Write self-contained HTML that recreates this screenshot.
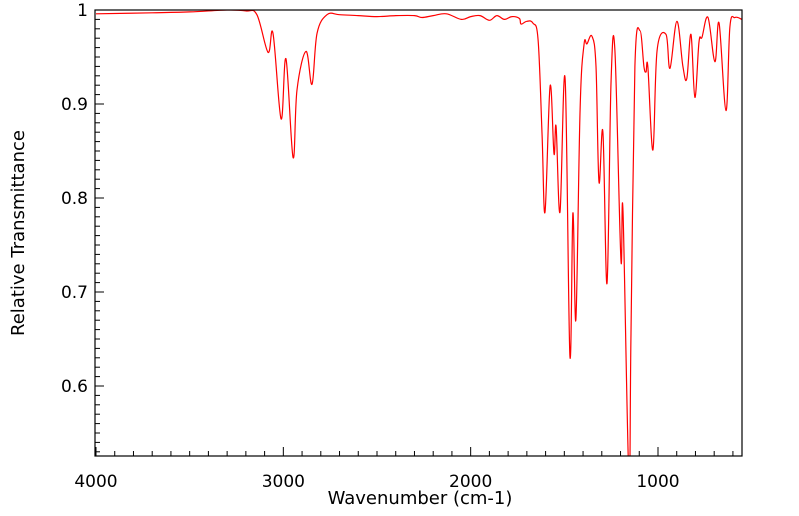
<!DOCTYPE html>
<html><head><meta charset="utf-8"><style>
html,body{margin:0;padding:0;background:#fff;}
svg{display:block;font-family:"DejaVu Sans","Liberation Sans",sans-serif;}
</style></head><body>
<svg id="chart" width="799" height="516">
<defs><clipPath id="clip"><rect x="95" y="10" width="647" height="446"/></clipPath></defs>
<g id="axes"></g>
<path id="line" fill="none" stroke="#ff0000" stroke-width="1.2" clip-path="url(#clip)"/>
<rect x="95" y="10" width="647" height="446" fill="none" stroke="#000" stroke-width="1.2"/>
<text x="420" y="504" font-size="18" text-anchor="middle">Wavenumber (cm-1)</text>
<text transform="translate(24,233) rotate(-90)" font-size="18" text-anchor="middle">Relative Transmittance</text>
</svg>
<script>
const wavenumbers=[4000,3700,3500,3300,3200,3141,3082,3055,3012,2986,2948,2927,2879,2847,2820,2767,2700,2600,2500,2400,2300,2260,2200,2130,2050,2000,1950,1900,1860,1820,1780,1740,1731,1700,1667,1640,1619,1603,1576,1555,1544,1523,1496,1470,1454,1438,1416,1395,1379,1352,1331,1315,1294,1272,1251,1230,1198,1187,1155,1144,1123,1096,1075,1064,1054,1027,1005,957,936,899,867,846,824,803,781,765,733,696,674,637,616,589,552];
const transmittance=[0.996,0.997,0.998,1.0,0.999,0.995,0.955,0.975,0.884,0.948,0.843,0.915,0.956,0.921,0.975,0.995,0.995,0.994,0.993,0.994,0.994,0.992,0.994,0.996,0.99,0.993,0.994,0.989,0.994,0.99,0.993,0.991,0.985,0.988,0.986,0.968,0.869,0.785,0.919,0.847,0.876,0.785,0.927,0.632,0.784,0.671,0.894,0.963,0.964,0.972,0.94,0.817,0.87,0.709,0.922,0.957,0.735,0.786,0.5,0.656,0.94,0.978,0.94,0.934,0.939,0.851,0.957,0.974,0.938,0.988,0.94,0.927,0.974,0.907,0.966,0.971,0.992,0.945,0.986,0.893,0.982,0.992,0.99];
const xTickLabels=[4000,3000,2000,1000];
const yTickLabels=[1,0.9,0.8,0.7,0.6];
const X0=95,X1=742,Y0=10,Y1=456;
const xMin=552,xMax=4000,yMin=0.5255,yMax=1.0;
function sx(w){return X0+1+(xMax-w)*0.18733;}
function sy(t){return Y0+(yMax-t)*940;}
const pts=wavenumbers.map((w,i)=>[sx(w),sy(transmittance[i])]);
let d='M'+pts[0][0].toFixed(1)+','+pts[0][1].toFixed(1);
for(let i=0;i<pts.length-1;i++){
 const p0=pts[Math.max(0,i-1)],p1=pts[i],p2=pts[i+1],p3=pts[Math.min(pts.length-1,i+2)];
 const k=0.18;
 const c1=[p1[0]+(p2[0]-p0[0])*k,p1[1]+(p2[1]-p0[1])*k];
 const c2=[p2[0]-(p3[0]-p1[0])*k,p2[1]-(p3[1]-p1[1])*k];
 d+=' C'+c1[0].toFixed(1)+','+c1[1].toFixed(1)+' '+c2[0].toFixed(1)+','+c2[1].toFixed(1)+' '+p2[0].toFixed(1)+','+p2[1].toFixed(1);
}
document.getElementById('line').setAttribute('d',d);
const ax=document.getElementById('axes');
const NS='http://www.w3.org/2000/svg';
function ln(x1,y1,x2,y2,name){const l=document.createElementNS(NS,'line');
l.setAttribute('x1',x1);l.setAttribute('y1',y1);l.setAttribute('x2',x2);l.setAttribute('y2',y2);
l.setAttribute('stroke','#000');l.setAttribute('stroke-width','1');


ax.appendChild(l);}
for(let w=4000;w>=xMin;w-=100){const x=sx(w);const major=w%1000===0;ln(x,Y1,x,Y1-(major?9:5),major?'x-major-tick':'x-minor-tick');}
for(let i=0;;i++){const t=1-i*0.01;if(t<yMin)break;const y=sy(t);const major=i%10===0;ln(X0,y,X0+(major?9:5),y,major?'y-major-tick':'y-minor-tick');}
xTickLabels.forEach(v=>{const t=document.createElementNS(NS,'text');
t.setAttribute('x',sx(v));t.setAttribute('y',487);t.setAttribute('font-size','17');t.setAttribute('text-anchor','middle');


t.textContent=v;ax.appendChild(t);});
yTickLabels.forEach(v=>{const t=document.createElementNS(NS,'text');
t.setAttribute('x',88);t.setAttribute('y',sy(v)+6);t.setAttribute('font-size','17');t.setAttribute('text-anchor','end');


t.textContent=v;ax.appendChild(t);});
</script>
</body></html>
